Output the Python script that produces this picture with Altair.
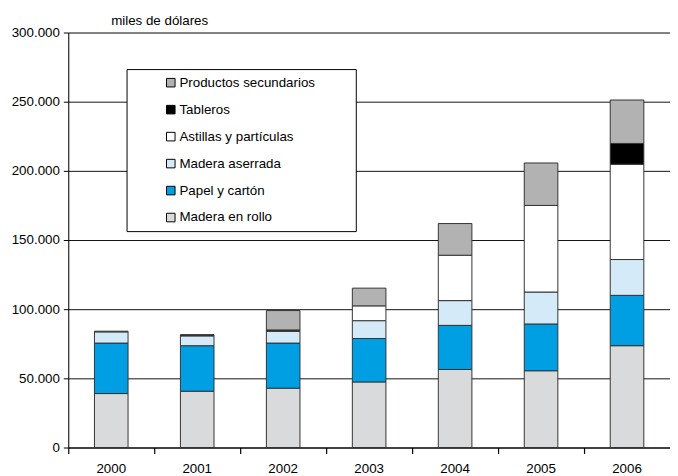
import altair as alt
import pandas as pd

years = ["2000", "2001", "2002", "2003", "2004", "2005", "2006"]
categories = ["Productos secundarios", "Tableros", "Astillas y partículas",
              "Madera aserrada", "Papel y cartón", "Madera en rollo"]
colors = ["#b2b2b2", "#000000", "#ffffff", "#d5eaf8", "#009fe3", "#d9dadb"]

madera_rollo = [39000, 40700, 42900, 47400, 56400, 55500, 73600]
papel_carton = [36500, 32900, 32600, 31400, 31900, 33800, 36400]
madera_aserrada = [8100, 7100, 8500, 12900, 17900, 23100, 25900]
astillas = [500, 500, 500, 10700, 32800, 62600, 68900]
tableros = [0, 300, 500, 0, 0, 0, 15000]
secundarios = [0, 0, 14000, 12800, 22900, 30700, 31400]

series = {
    "Madera en rollo": madera_rollo,
    "Papel y cartón": papel_carton,
    "Madera aserrada": madera_aserrada,
    "Astillas y partículas": astillas,
    "Tableros": tableros,
    "Productos secundarios": secundarios,
}
stack_order = ["Madera en rollo", "Papel y cartón", "Madera aserrada",
               "Astillas y partículas", "Tableros", "Productos secundarios"]

rows = []
for cat in stack_order:
    for y, v in zip(years, series[cat]):
        rows.append({"year": y, "cat": cat, "value": v, "ord": stack_order.index(cat)})
df = pd.DataFrame(rows)

FONT = "Liberation Sans"
FS = 13.5
PAD = "\u00a0" * 9 + "\u200b"

chart = alt.Chart(df).transform_filter("datum.value > 0").mark_bar(
    width=34, stroke="#333333", strokeWidth=1
).encode(
    x=alt.X("year:N", scale=alt.Scale(paddingInner=0, paddingOuter=0),
            axis=alt.Axis(title=None, labelAngle=0, bandPosition=0,
                          tickSize=6, tickWidth=1.2, tickColor="#000", domainColor="#000",
                          labelPadding=8, labelFontSize=FS, labelFont=FONT,
                          labelColor="#000", grid=False)),
    y=alt.Y("value:Q", stack="zero",
            scale=alt.Scale(domain=[0, 300000], nice=False),
            axis=alt.Axis(values=[0, 50000, 100000, 150000, 200000, 250000, 300000],
                          labelExpr="replace(format(datum.value, ',d'), regexp(',', 'g'), '.')",
                          title="miles de dólares", titleAngle=0, titleX=92, titleY=-12,
                          titleAlign="center", titleBaseline="middle",
                          titleFont=FONT, titleFontSize=FS, titleFontWeight="normal",
                          titleColor="#000",
                          tickSize=5, tickColor="#000", domainColor="#000",
                          labelPadding=4, labelFontSize=FS, labelFont=FONT,
                          labelColor="#000", grid=True, gridColor="#111", gridWidth=1)),
    color=alt.Color("cat:N", scale=alt.Scale(domain=categories, range=colors),
                    legend=alt.Legend(title=None, orient="none", legendX=59, legendY=37,
                                      direction="vertical",
                                      symbolType="square", symbolSize=75,
                                      symbolStrokeColor="#000", symbolStrokeWidth=1,
                                      symbolOffset=31, labelOffset=2,
                                      labelFont=FONT, labelFontSize=FS, labelColor="#000",
                                      labelExpr=f"datum.label + '{PAD}'",
                                      rowPadding=12.3, padding=7,
                                      strokeColor="#000", fillColor="#fff",
                                      labelLimit=400)),
    order=alt.Order("ord:Q", sort="ascending"),
).properties(
    width=609, height=420,
    autosize=alt.AutoSizeParams(type="none"),
    padding={"left": 61, "top": 22, "right": 0, "bottom": 25},
).configure_view(stroke=None).configure(font=FONT)

chart.save("out.html", embed_options={"renderer": "svg", "actions": False})
